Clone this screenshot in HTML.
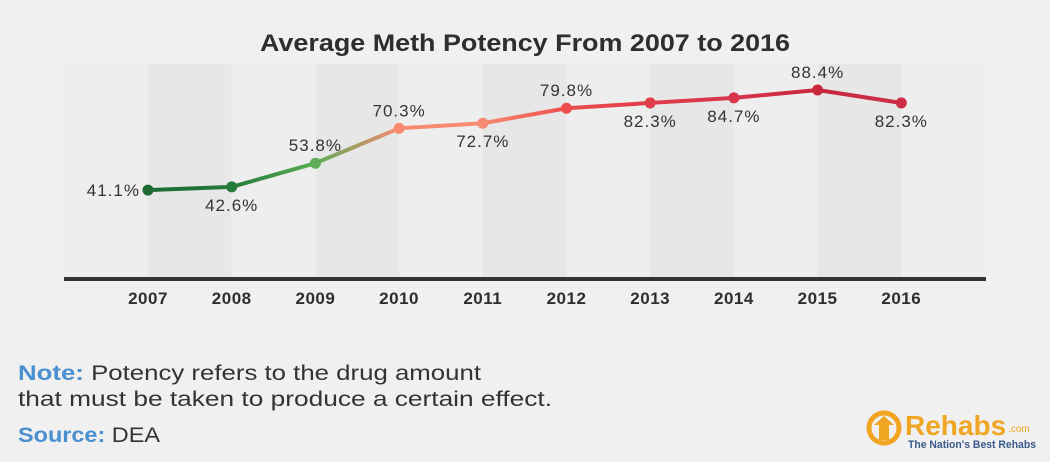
<!DOCTYPE html>
<html><head><meta charset="utf-8"><style>
body{margin:0;width:1050px;height:462px;background:#f0f0f0;font-family:"Liberation Sans",sans-serif;overflow:hidden}
</style></head><body>
<svg width="1050" height="462" style="position:absolute;left:0;top:0">
<text x="260" y="51" textLength="530" lengthAdjust="spacingAndGlyphs" font-size="24" font-weight="bold" fill="#2e2e2e">Average Meth Potency From 2007 to 2016</text>
<g id="bands"></g><g id="lines"></g><g id="pts"></g><g id="labels"></g><g id="xlabels"></g>
<rect x="64" y="277" width="922" height="4" fill="#333"/>
<text x="18" y="380" font-size="21" fill="#333" textLength="463" lengthAdjust="spacingAndGlyphs"><tspan font-weight="bold" fill="#4a8fd0">Note:</tspan> Potency refers to the drug amount</text>
<text x="18" y="406" font-size="21" fill="#333" textLength="534" lengthAdjust="spacingAndGlyphs">that must be taken to produce a certain effect.</text>
<text x="18" y="442" font-size="21" fill="#333" textLength="142" lengthAdjust="spacingAndGlyphs"><tspan font-weight="bold" fill="#4a8fd0">Source:</tspan> DEA</text>
<g>
<circle cx="884" cy="428" r="15" fill="none" stroke="#f0a623" stroke-width="5"/>
<rect x="879" y="424" width="10" height="16" fill="#f0a623"/>
<polygon points="874,425 884,416 894,425" fill="#f0a623"/>
<text x="905" y="435" font-size="28" font-weight="bold" fill="#f0a623">Rehabs</text>
<text x="1008" y="432" font-size="10" fill="#f0a623">.com</text>
<text x="908" y="448" font-size="11" font-weight="bold" fill="#3a5a8c" textLength="128" lengthAdjust="spacingAndGlyphs">The Nation's Best Rehabs</text>
</g>
</svg>
<script>
const years=["2007","2008","2009","2010","2011","2012","2013","2014","2015","2016"];
const values=[41.1,42.6,53.8,70.3,72.7,79.8,82.3,84.7,88.4,82.3];
const labels=["41.1%","42.6%","53.8%","70.3%","72.7%","79.8%","82.3%","84.7%","88.4%","82.3%"];
const colors=["#1e6b35","#237a3a","#5cad55","#f98a70","#f78a72","#ee4d4d","#e03c4a","#d8344a","#c8283f","#cc2f45"];
const labelPos=["left","below","above","above","below","above","below","below","above","below"];
const NS="http://www.w3.org/2000/svg";
const x=i=>148+i*83.7;
const y=v=>277-v*2.115;
function mk(t,a,p){const e=document.createElementNS(NS,t);for(const k in a)e.setAttribute(k,a[k]);document.getElementById(p).appendChild(e);return e;}
for(let i=-1;i<years.length;i++){
 const x0=Math.max(64,x(i)),x1=Math.min(986,x(i+1));
 const b=mk('rect',{x:x0,y:64,width:x1-x0,height:213,fill:(i%2===0)?'#e7e7e7':'#eeeeee'},'bands');
 
 
}
const defs=document.createElementNS(NS,'defs');document.querySelector('svg').prepend(defs);
for(let i=0;i<values.length-1;i++){
 const g=document.createElementNS(NS,'linearGradient');g.id='g'+i;g.setAttribute('gradientUnits','userSpaceOnUse');
 g.setAttribute('x1',x(i));g.setAttribute('x2',x(i+1));g.setAttribute('y1',0);g.setAttribute('y2',0);
 g.innerHTML=`<stop offset="0" stop-color="${colors[i]}"/><stop offset="1" stop-color="${colors[i+1]}"/>`;defs.appendChild(g);
 const l=mk('line',{x1:x(i),y1:y(values[i]),x2:x(i+1),y2:y(values[i+1]),stroke:'url(#g'+i+')','stroke-width':4,'stroke-linecap':'round'},'lines');
 
 
}
values.forEach((v,i)=>{
 const c=mk('circle',{cx:x(i),cy:y(v),r:5.5,fill:colors[i]},'pts');
 
 
 let tx=x(i),ty=y(v),anchor='middle';
 if(labelPos[i]==='left'){tx-=8;ty+=6;anchor='end';}else if(labelPos[i]==='above'){ty-=12;}else{ty+=24;}
 const t=mk('text',{x:tx,y:ty,'text-anchor':anchor,'font-size':17,'letter-spacing':1,fill:'#333'},'labels');t.textContent=labels[i];
 
 
 const xl=mk('text',{x:x(i),y:304,'text-anchor':'middle','font-size':17,'font-weight':'bold',fill:'#2e2e2e','letter-spacing':0.5},'xlabels');xl.textContent=years[i];
 
 
});
</script>
</body></html>
